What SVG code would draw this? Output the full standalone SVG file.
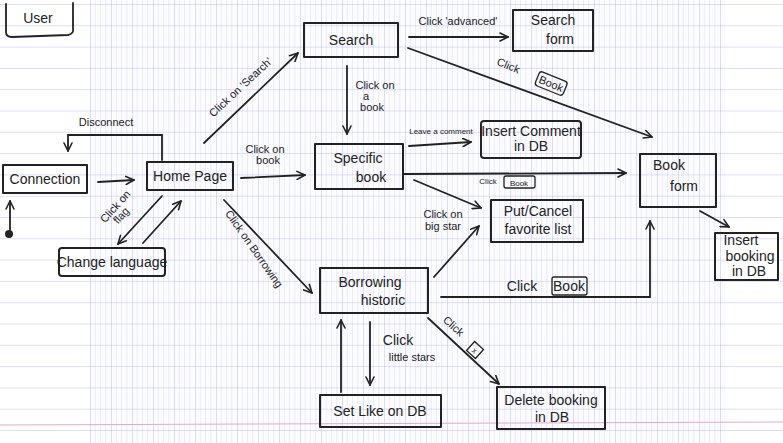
<svg xmlns="http://www.w3.org/2000/svg" width="783" height="443" viewBox="0 0 783 443">
<defs>
<pattern id="grid" patternUnits="userSpaceOnUse" x="90" y="4" width="21" height="21.3">
<rect width="21" height="21.3" fill="#fcfcff"/>
<path d="M5.25 0V21.3M10.5 0V21.3M15.75 0V21.3" stroke="#d9dcf6" stroke-width="0.5"/>
<path d="M0 0V21.3M0 0H21" stroke="#aab2ea" stroke-width="0.8"/>
</pattern>
<pattern id="rules" patternUnits="userSpaceOnUse" x="0" y="4" width="21" height="21.3">
<rect width="21" height="21.3" fill="#ffffff"/>
<path d="M0 0H21" stroke="#aab2ea" stroke-width="0.8"/>
</pattern>
<marker id="arr" viewBox="0 0 10 10" refX="9" refY="5" markerWidth="10" markerHeight="10" markerUnits="userSpaceOnUse" orient="auto">
<path d="M1 1L9 5L1 9" fill="none" stroke="#222" stroke-width="1.6" stroke-linecap="round" stroke-linejoin="round"/>
</marker>
<style>
.box{fill:none;stroke:#222;stroke-width:2;stroke-linejoin:round}
.ln{fill:none;stroke:#222;stroke-width:1.8;stroke-linecap:round}
.a{marker-end:url(#arr)}
text{font-family:"Liberation Sans",Arial,sans-serif;fill:#222}
.t{font-size:14px;text-anchor:middle}
.l{font-size:11px;text-anchor:middle}
.s{font-size:8px;text-anchor:middle}
.tag{fill:none;stroke:#222;stroke-width:1.3}
</style>
</defs>
<rect width="783" height="443" fill="url(#rules)"/>
<rect x="90" y="0" width="635" height="443" fill="url(#grid)"/>
<line x1="0" y1="425" x2="783" y2="422" stroke="#e7a6d8" stroke-width="1"/>

<g id="user">
<path class="ln" d="M6 4V32Q6 37 12 37L68 35Q74 34 73 28V3"/>
<text x="38" y="23" class="t" font-size="15">User</text>
</g>

<g id="start">
<circle cx="9" cy="234" r="4" fill="#222"/>
</g>

<g id="connection">
<rect class="box" x="3" y="165" width="84" height="28"/>
<text x="45" y="184" class="t">Connection</text>
</g>

<g id="homepage">
<rect class="box" x="147" y="162" width="86" height="28"/>
<text x="190" y="181" class="t">Home Page</text>
</g>

<g id="changelanguage">
<rect class="box" x="59" y="248" width="106" height="28" rx="3"/>
<text x="112" y="267" class="t" font-size="13">Change language</text>
</g>

<g id="search">
<rect class="box" x="304" y="23" width="94" height="34"/>
<text x="351" y="45" class="t" font-size="15">Search</text>
</g>

<g id="searchform">
<rect class="box" x="513" y="10" width="80" height="41"/>
<text x="553" y="25" class="t">Search</text>
<text x="560" y="44" class="t">form</text>
</g>

<g id="specificbook">
<rect class="box" x="315" y="144" width="88" height="45"/>
<text x="358" y="163" class="t" font-size="15">Specific</text>
<text x="371" y="182" class="t" font-size="15">book</text>
</g>

<g id="insertcomment">
<rect class="box" x="481" y="121" width="100" height="37" rx="3"/>
<text x="531" y="136" class="t" font-size="13">Insert Comment</text>
<text x="531" y="151" class="t" font-size="12">in DB</text>
</g>

<g id="bookform">
<rect class="box" x="640" y="154" width="76" height="53"/>
<text x="669" y="170" class="t">Book</text>
<text x="684" y="191" class="t">form</text>
</g>

<g id="insertbooking">
<rect class="box" x="715" y="233" width="63" height="47"/>
<text x="741" y="245" class="t" font-size="10">Insert</text>
<text x="750" y="261" class="t" font-size="9">booking</text>
<text x="749" y="276" class="t" font-size="9">in DB</text>
</g>

<g id="favorite">
<rect class="box" x="491" y="200" width="92" height="42"/>
<text x="538" y="216" class="t" font-size="13">Put/Cancel</text>
<text x="538" y="234" class="t" font-size="13">favorite list</text>
</g>

<g id="borrowing">
<rect class="box" x="320" y="268" width="108" height="45"/>
<text x="370" y="287" class="t" font-size="15">Borrowing</text>
<text x="383" y="305" class="t" font-size="14">historic</text>
</g>

<g id="setlike">
<rect class="box" x="320" y="395" width="121" height="32"/>
<text x="380" y="416" class="t" font-size="15">Set Like on DB</text>
</g>

<g id="deletebooking">
<rect class="box" x="497" y="387" width="108" height="42"/>
<text x="551" y="405" class="t" font-size="13">Delete booking</text>
<text x="552" y="422" class="t" font-size="13">in DB</text>
</g>

<g id="connectors">
<path class="ln a" d="M10 230V201"/>
<path class="ln a" d="M98 182L134 180"/>
<path class="ln a" d="M162 160V135H68V151"/>
<text x="106" y="126" class="l">Disconnect</text>
<path class="ln a" d="M162 196L118 244"/>
<path class="ln a" d="M143 243L181 201"/>
<text x="0" y="0" class="l" font-size="10" transform="translate(118 209) rotate(-48)">Click on</text>
<text x="0" y="0" class="l" font-size="10" transform="translate(124 218) rotate(-48)">flag</text>
<path class="ln a" d="M204 143L298 53"/>
<text x="0" y="0" class="l" transform="translate(243 90) rotate(-43)">Click on 'Search'</text>
<path class="ln a" d="M241 178L305 175"/>
<text x="265" y="153" class="l">Click on</text>
<text x="268" y="164" class="l">book</text>
<path class="ln a" d="M409 37H508"/>
<text x="458" y="25" class="l">Click 'advanced'</text>
<path class="ln a" d="M408 48L652 137"/>
<text x="0" y="0" class="l" transform="translate(507 69) rotate(22)">Click</text>
<g transform="translate(551 84) rotate(22)"><rect class="tag" x="-15" y="-8" width="30" height="15" rx="3"/><text x="0" y="3.5" class="l" font-size="10">Book</text></g>
<path class="ln a" d="M347 66V134"/>
<text x="375" y="89" class="l" font-size="10">Click on</text>
<text x="366" y="100" class="l" font-size="10">a</text>
<text x="372" y="111" class="l" font-size="10">book</text>
<path class="ln a" d="M409 146L471 142"/>
<text x="441" y="134" class="s">Leave a comment</text>
<path class="ln a" d="M404 174L626 173"/>
<text x="488" y="184" class="s" font-size="9">Click</text>
<rect class="tag" x="504" y="176" width="31" height="12" rx="2"/>
<text x="519" y="186" class="s" font-size="9">Book</text>
<path class="ln a" d="M700 211L729 227"/>
<path class="ln a" d="M414 180Q450 195 481 208"/>
<path class="ln a" d="M434 277L479 226"/>
<text x="443" y="218" class="l">Click on</text>
<text x="443" y="230" class="l" font-size="10">big star</text>
<path class="ln a" d="M224 200L312 293"/>
<text x="0" y="0" class="l" font-size="10" transform="translate(251 251) rotate(55)">Click on Borrowing</text>
<path class="ln a" d="M441 297H650V221"/>
<text x="522" y="291" class="t" font-size="13">Click</text>
<rect class="tag" x="552" y="277" width="35" height="18" rx="2"/>
<text x="569" y="291" class="t" font-size="13">Book</text>
<path class="ln a" d="M370 322V385"/>
<path class="ln a" d="M341 392V320"/>
<text x="398" y="345" class="t" font-size="13">Click</text>
<text x="412" y="361" class="l">little stars</text>
<path class="ln a" d="M428 318L499 384"/>
<text x="0" y="0" class="l" transform="translate(451 329) rotate(42)">Click</text>
<g transform="translate(475 350) rotate(42)"><rect class="tag" x="-6" y="-6" width="12" height="12"/><text x="0" y="3.5" class="s" font-size="9">x</text></g>
</g>
</svg>
